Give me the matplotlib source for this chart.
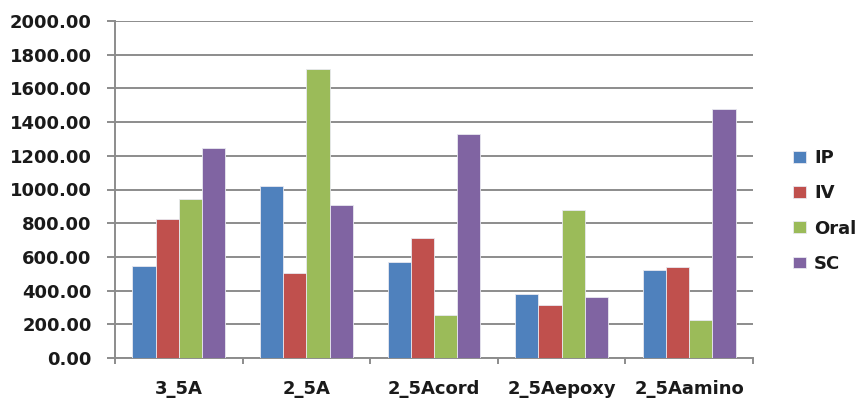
import matplotlib
matplotlib.use("Agg")
import matplotlib.pyplot as plt
import numpy as np

categories = ["3_5A", "2_5A", "2_5Acord", "2_5Aepoxy", "2_5Aamino"]
series_names = ["IP", "IV", "Oral", "SC"]
ip_values = [548, 1019, 568, 382, 522]
iv_values = [825, 506, 714, 313, 540]
oral_values = [943, 1713, 253, 878, 225]
sc_values = [1244, 906, 1329, 364, 1478]
y_ticks = [0, 200, 400, 600, 800, 1000, 1200, 1400, 1600, 1800, 2000]

colors = ["#4F81BD", "#C0504D", "#9BBB59", "#8064A2"]
series = [ip_values, iv_values, oral_values, sc_values]

W, H = 858, 398
fig = plt.figure(figsize=(W / 100, H / 100), dpi=100)
ax = fig.add_axes([115 / W, 40 / H, 638 / W, 337 / H])

n = len(series)
bar_w = 1.0 / (n + 1.5)
x = np.arange(len(categories))
for i, (name, vals, c) in enumerate(zip(series_names, series, colors)):
    offs = (i - (n - 1) / 2) * bar_w
    ax.bar(x + offs, vals, width=bar_w, color=c, edgecolor="#e8e8f0",
           linewidth=0.6, label=name, zorder=3)

ax.set_xlim(-0.5, len(categories) - 0.5)
ax.set_ylim(0, 2000)
ax.set_yticks(y_ticks)
ax.set_yticklabels([f"{v:.2f}" for v in y_ticks])
ax.grid(axis="y", color="#8c8c8c", linewidth=1.4, zorder=0)

# category boundaries carry the x tick marks; labels sit at the centers
ax.set_xticks(np.arange(-0.5, len(categories), 1.0))
ax.set_xticklabels([])
ax.set_xticks(x, minor=True)
ax.set_xticklabels(categories, minor=True)
ax.tick_params(axis="x", which="major", length=4, width=1.4, color="#8c8c8c")
ax.tick_params(axis="x", which="minor", length=0, pad=16,
               labelsize=13, labelcolor="#1a1a1a")
ax.tick_params(axis="y", length=5.8, width=1.4, color="#8c8c8c", pad=11,
               labelsize=13, labelcolor="#1a1a1a")
for lbl in ax.get_yticklabels() + ax.get_xticklabels(minor=True):
    lbl.set_fontweight("bold")

for side in ["top", "right"]:
    ax.spines[side].set_visible(False)
for side in ["left", "bottom"]:
    ax.spines[side].set_color("#8c8c8c")
    ax.spines[side].set_linewidth(1.4)

leg = fig.legend(loc="center left", bbox_to_anchor=(777 / W, 187 / H),
                 frameon=False, handlelength=0.7, handleheight=0.6,
                 handletextpad=0.45, labelspacing=0.95,
                 prop={"size": 13, "weight": "bold"})
for t in leg.get_texts():
    t.set_color("#1a1a1a")

fig.savefig("out.png", dpi=100)
